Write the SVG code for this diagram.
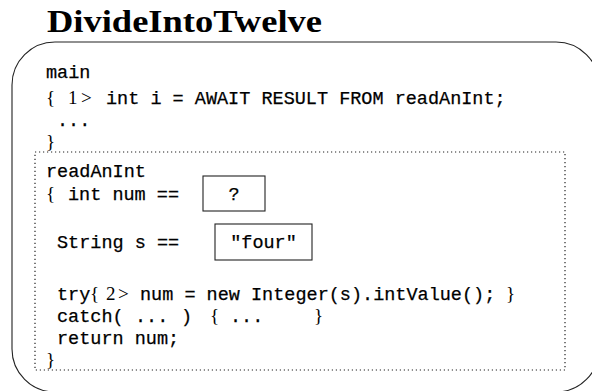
<svg xmlns="http://www.w3.org/2000/svg" width="592" height="391" viewBox="0 0 592 391">
<style>
.t{font-family:"Liberation Mono","DejaVu Sans Mono",monospace;font-size:18.5px;fill:#000;stroke:#000;stroke-width:0.25}
.m{font-family:"Liberation Serif","DejaVu Serif",serif;font-size:19px;fill:#000}
.box{fill:none;stroke:#222;stroke-width:1.1}
.dot{fill:none;stroke:#222;stroke-width:1.2;stroke-dasharray:1.2 2.8}
</style>
<rect fill="#fff" x="0" y="0" width="592" height="391"/>
<text id="title" x="47" y="32" font-family="Liberation Serif, serif" font-weight="bold" font-size="31" textLength="275" lengthAdjust="spacingAndGlyphs">DivideIntoTwelve</text>
<g id="outer"><rect class="box" x="12" y="42" width="587" height="350" rx="43" ry="43"/></g>
<g id="main">
<text class="t" x="46" y="78">main</text>
<text class="m" x="46" y="104">{</text>
<text class="m" x="68" y="104">1</text>
<text class="m" x="81" y="104">&gt;</text>
<text class="t" x="106" y="104">int i = AWAIT RESULT FROM readAnInt;</text>
<text class="t" x="57" y="126">...</text>
<text class="m" x="46" y="148">}</text>
</g>
<g id="readAnInt">
<rect class="dot" x="35" y="152" width="530" height="218"/>
<text class="t" x="46" y="177">readAnInt</text>
<text class="m" x="46" y="200">{</text>
<text class="t" x="68" y="200">int num ==</text>
<text class="t" x="57" y="248">String s ==</text>
<text class="t" x="57" y="300">try</text>
<text class="m" x="90" y="300">{</text>
<text class="m" x="106" y="300">2</text>
<text class="m" x="118" y="300">&gt;</text>
<text class="t" x="140" y="300">num = new Integer(s).intValue();</text>
<text class="m" x="506" y="300">}</text>
<text class="t" x="57" y="322">catch(</text>
<text class="t" x="135" y="322">...</text>
<text class="t" x="181" y="322">)</text>
<text class="m" x="210" y="322">{</text>
<text class="t" x="230" y="322">...</text>
<text class="m" x="314" y="322">}</text>
<text class="t" x="57" y="344">return num;</text>
<text class="m" x="46" y="366">}</text>
</g>
<g id="numBox">
<rect class="box" x="203" y="176" width="62" height="35"/>
<text class="t" x="234" y="200" text-anchor="middle">?</text>
</g>
<g id="sBox">
<rect class="box" x="215" y="224" width="97" height="36"/>
<text class="t" x="263.5" y="248" text-anchor="middle">"four"</text>
</g>
<g id="connectors"/>
</svg>
